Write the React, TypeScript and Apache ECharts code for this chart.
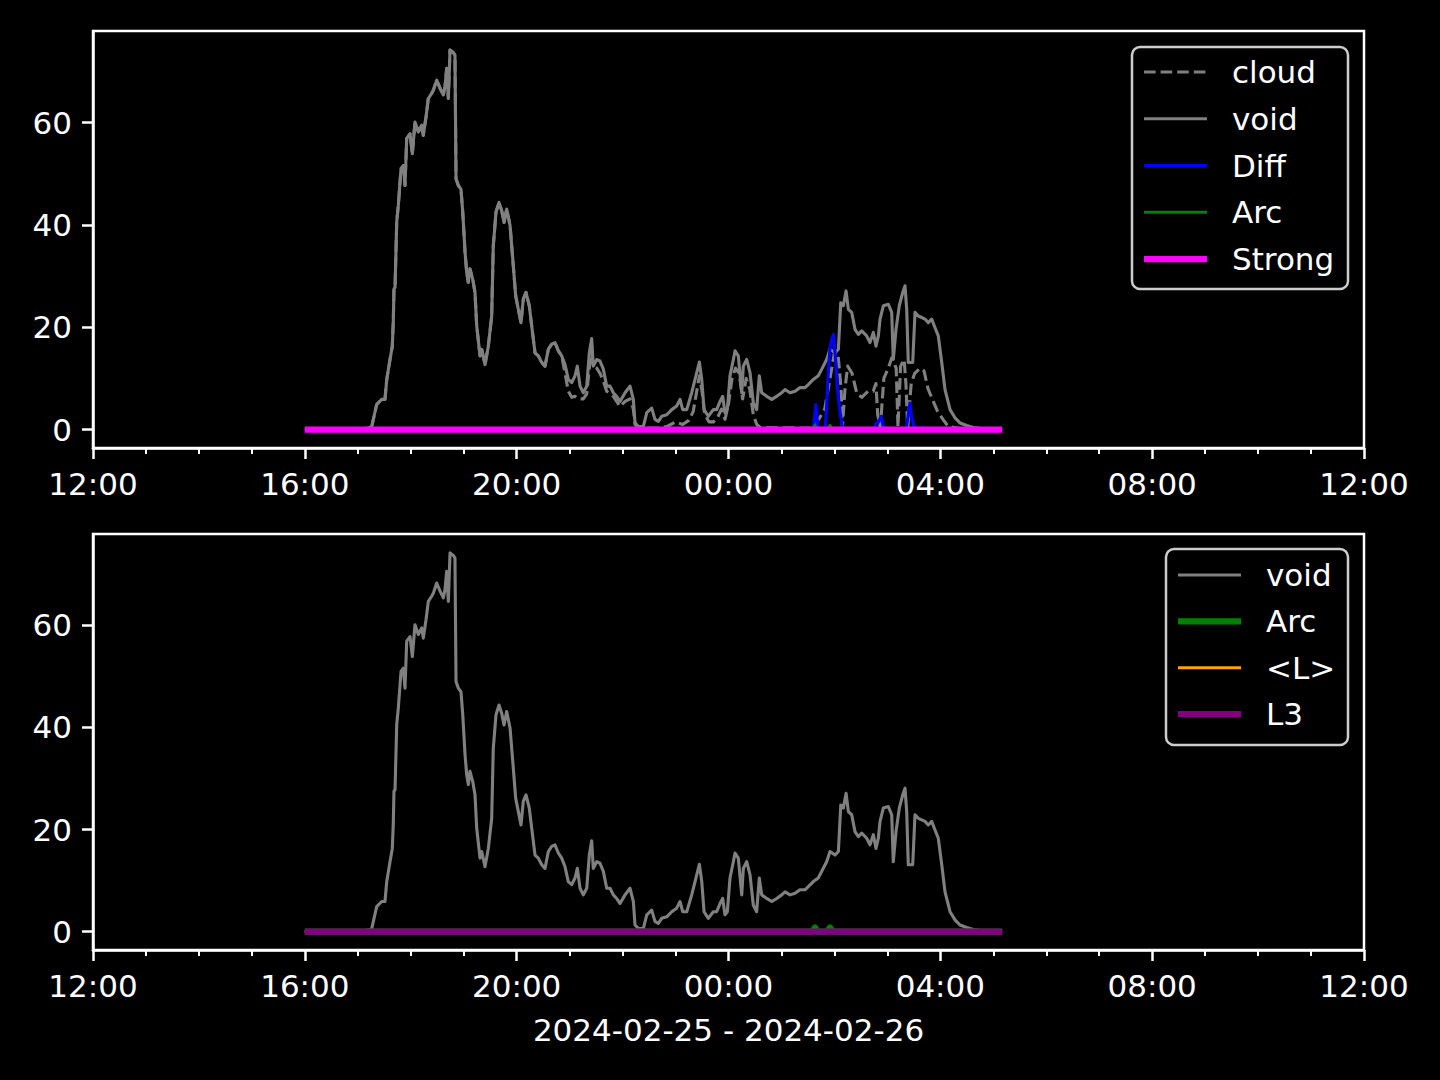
import React, { useEffect, useRef } from 'react';
import * as echarts from 'echarts';

const FONT = '"DejaVu Sans", sans-serif';

// x values are minutes after 2024-02-25 12:00
const yTickValues = [0, 20, 40, 60];
const xAxisTitle = '2024-02-25 - 2024-02-26';

const voidData: number[][] = [
  [240, 0], [300, 0], [312, 0.3], [315.8, 0.6], [321.4, 4.9], [327.1, 5.9], [330.8, 5.9], [332.8, 9.8],
  [336.5, 13.7], [339.1, 16.3], [340.2, 21], [341, 27.5], [342.2, 27.8], [344.1, 40.6], [345.9, 43.8],
  [349, 51], [351.6, 51.6], [353.5, 47.7], [355.4, 56.9], [359.2, 57.8], [361.8, 53.9], [364.8, 60.1],
  [368.6, 58.2], [372.4, 59.5], [374.2, 57.5], [377.3, 61.1], [379.9, 64.7], [383.7, 65.7], [385.6, 66.3],
  [389.4, 68.3], [393.2, 66.7], [396.9, 65.4], [398.8, 67], [400.7, 70.6], [402.6, 64.7], [404.5, 74.2],
  [408.2, 73.7], [410.1, 73.2], [411.3, 49], [413.9, 47.7], [416.9, 47], [418.9, 42.5], [421.5, 34.7],
  [423.4, 30.7], [425.2, 28.8], [427.1, 31.4], [430.2, 29.4], [432.8, 26.8], [434.7, 20.3], [438.5, 14.4],
  [440.4, 15.7], [444.1, 12.7], [447.9, 16.3], [451.7, 22.2], [453.5, 35.9], [456.6, 42.5], [460, 44.4],
  [463, 42.8], [465.7, 40.5], [468.7, 43.1], [472.5, 39.9], [476.2, 32], [478.9, 26.1], [481.9, 23.5],
  [484.9, 20.9], [487.5, 25.5], [490.6, 26.8], [494.3, 24.2], [497, 20.3], [500.8, 15], [504.5, 14.4],
  [508.4, 13.1], [512.1, 12.4], [515.9, 15.7], [519.7, 16.7], [523.4, 17], [527.2, 15.4], [531, 14.4],
  [534.8, 12.7], [538.5, 9.8], [542.4, 9.2], [546.1, 10.5], [548.7, 12.4], [551.8, 8.5], [555.5, 7.2],
  [559.4, 8.5], [562.3, 15], [565, 17.8], [566.8, 12.4], [570.7, 13.7], [574.4, 13.4], [578.2, 11.8],
  [582, 8.5], [585.8, 8.5], [589.5, 7.2], [593.3, 6.5], [597.1, 5.5], [602.8, 7.2], [608.4, 8.5],
  [612.2, 5.9], [614.1, 1.3], [617.9, 0.6], [623.5, 0.6], [627.4, 3.3], [633, 4.2], [636.7, 2],
  [640.5, 1.6], [644.3, 2.6], [650, 2.9], [655.7, 3.9], [661.3, 4.6], [665.1, 5.9], [668.1, 3.9],
  [672.7, 3.9], [678.3, 7.2], [682.1, 9.8], [687, 13.2], [689.7, 9.8], [692.3, 3.9], [697.1, 2.6],
  [702.8, 3.9], [706.6, 3.9], [710.4, 5.5], [713.4, 6.5], [716, 3.3], [718.7, 3.9], [721.7, 10.5],
  [725.5, 13.7], [727.4, 15.4], [731.1, 14.4], [735, 7.2], [736.8, 12.4], [740.6, 13.7], [744.4, 11.1],
  [748.1, 5.2], [751.9, 3.9], [754.9, 10.5], [757.6, 7.2], [763.3, 6.5], [769, 5.9], [774.6, 6.5],
  [780.3, 7.2], [784, 7.8], [789.7, 7.2], [795.4, 7.5], [801, 8.2], [806.7, 8.2], [810.4, 8.8],
  [816.1, 9.8], [821.7, 10.5], [827.4, 12.4], [831.2, 13.7], [835, 15.7], [840.7, 15], [844.5, 15.7],
  [847.2, 24.8], [850.1, 24.2], [853.2, 27.1], [855.8, 23.5], [859.6, 22.9], [863.3, 19.6], [867.1, 18.6],
  [870.9, 19.3], [876.6, 18.3], [880.3, 17], [884.1, 19], [887.1, 16.3], [889.8, 18.3], [891.7, 21.6],
  [895.4, 24.2], [901.1, 24.5], [904.9, 22.9], [906.7, 13.7], [909.8, 19.6], [913.5, 24.2], [917.4, 26.8],
  [920, 28.1], [921.9, 23.5], [923.7, 13.1], [928.7, 13.1], [931.3, 22.9], [935.1, 22.2], [938.9, 21.9],
  [942.6, 21.6], [946.4, 20.9], [950.2, 21.6], [954, 19.9], [957.7, 18.3], [961.6, 13.1], [965.3, 7.8],
  [971, 3.9], [976.6, 2.3], [982.3, 1.3], [989.9, 0.8], [997.4, 0.4], [1010.6, 0.1], [1030, 0],
];

const cloudData: number[][] = [
  [240, 0], [300, 0], [312, 0.3], [315.8, 0.6], [321.4, 4.9], [327.1, 5.9], [330.8, 5.9], [332.8, 9.8],
  [336.5, 13.7], [339.1, 16.3], [340.2, 21], [341, 27.5], [342.2, 27.8], [344.1, 40.6], [345.9, 43.8],
  [349, 51], [351.6, 51.6], [353.5, 47.7], [355.4, 56.9], [359.2, 57.8], [361.8, 53.9], [364.8, 60.1],
  [368.6, 58.2], [372.4, 59.5], [374.2, 57.5], [377.3, 61.1], [379.9, 64.7], [383.7, 65.7], [385.6, 66.3],
  [389.4, 68.3], [393.2, 66.7], [396.9, 65.4], [398.8, 67], [400.7, 70.6], [402.6, 64.7], [404.5, 74.2],
  [408.2, 73.7], [410.1, 73.2], [411.3, 49], [413.9, 47.7], [416.9, 47], [418.9, 42.5], [421.5, 34.7],
  [423.4, 30.7], [425.2, 28.8], [427.1, 31.4], [430.2, 29.4], [432.8, 26.8], [434.7, 20.3], [438.5, 14.4],
  [440.4, 15.7], [444.1, 12.7], [447.9, 16.3], [451.7, 22.2], [453.5, 35.9], [456.6, 42.5], [460, 44.4],
  [463, 42.8], [465.7, 40.5], [468.7, 43.1], [472.5, 39.9], [476.2, 32], [478.9, 26.1], [481.9, 23.5],
  [484.9, 20.9], [487.5, 25.5], [490.6, 26.8], [494.3, 24.2], [497, 20.3], [500.8, 15], [504.5, 14.4],
  [508.4, 13.1], [512.1, 12.4], [515.9, 15.7], [519.7, 16.7], [523.4, 17], [527.2, 15.4], [531, 14.4],
  [534.8, 11], [538.5, 7.5], [542.4, 6.3], [546.1, 6.5], [550, 6], [555.5, 6], [559.4, 7], [562.3, 12],
  [565, 15], [566.8, 12.4], [570.7, 12], [574.4, 11], [578.2, 9.5], [582, 7.5], [585.8, 7], [589.5, 6.5],
  [593.3, 5.5], [597.1, 4.5], [602.8, 5.5], [608.4, 6], [612.2, 4], [614.1, 1], [617.9, 0.3], [640, 0.3],
  [650, 0.6], [660, 1.5], [668, 1], [675, 1.8], [680, 3.5], [684, 7.5], [687, 10.5], [690, 7.5], [693, 3],
  [698, 1.5], [703, 1.5], [708, 2.5], [712, 4], [716, 2], [720, 5], [724, 10], [728, 12], [732, 11],
  [736, 6], [740, 10], [744, 8], [748, 3], [752, 1], [756, 0.4], [813, 0.3], [818, 1], [824, 2.5],
  [829, 4], [835, 10], [840, 15], [844, 15], [847.5, 8], [849, 0.3], [852, 8], [855, 12.4], [860, 11],
  [865.5, 7], [871, 6.3], [878, 7.5], [884, 7.5], [887, 9], [889, 3], [892, 0.3], [896, 10], [901, 12],
  [905, 14], [910, 12], [912, 0.5], [915, 12.4], [919, 13.7], [921, 9], [923, 0.3], [927, 9], [931, 11],
  [937, 12], [941.5, 11.5], [946, 8], [952, 5.5], [957, 3.5], [963, 2], [969, 0.6], [982, 0.2],
  [1000, 0], [1030, 0],
];

const diffData: number[][] = [
  [240, 0], [815, 0], [817, 1.2], [819, 4.9], [821, 1], [823, 0], [829.5, 0], [831, 4], [833, 11],
  [835, 16], [837, 17.6], [839, 18.6], [841, 14.4], [843.5, 7.8], [846.5, 3.3], [849.5, 0], [885, 0],
  [887, 1.2], [890, 1.5], [893, 2.6], [895, 0.8], [897, 0], [921, 0], [923, 2], [925.5, 5.2], [927, 3],
  [929, 1.5], [931, 0], [938, 0], [940, 0.4], [942, 0], [1030, 0],
];

const arcData: number[][] = [
  [240, 0], [815, 0], [818, 0.8], [821, 0], [832, 0], [835, 0.8], [838, 0], [1030, 0],
];

const meanLData: number[][] = [[240, 0], [1030, 0]];
const strongData: number[][] = [[240, 0], [1030, 0]];
const l3Data: number[][] = [[240, 0], [1030, 0]];

const LW1 = 3.1;
const LW2 = 6.25;
const DASH = [11.6, 5];

const pad = (n: number) => (n < 10 ? '0' + n : '' + n);
const fmtTime = (v: number) => {
  const t = (12 * 60 + Math.round(v)) % 1440;
  return pad(Math.floor(t / 60)) + ':' + pad(t % 60);
};

const textStyle = { color: '#fff', fontSize: 31, fontFamily: FONT };

function xAxisCfg(gridIndex: number, withName: boolean) {
  return {
    type: 'value',
    gridIndex,
    min: 0,
    max: 1440,
    interval: 240,
    axisLine: { show: true, onZero: false, lineStyle: { color: '#fff', width: 2.5 } },
    axisTick: { show: true, length: 11, lineStyle: { color: '#fff', width: 2.5 } },
    minorTick: { show: true, splitNumber: 4, length: 6, lineStyle: { color: '#fff', width: 2 } },
    minorSplitLine: { show: false },
    splitLine: { show: false },
    axisLabel: { ...textStyle, margin: 20, formatter: fmtTime, showMinLabel: true, showMaxLabel: true },
    name: withName ? xAxisTitle : '',
    nameLocation: 'middle',
    nameGap: 64,
    nameTextStyle: { ...textStyle },
  };
}

function yAxisCfg(gridIndex: number) {
  return {
    type: 'value',
    gridIndex,
    min: -3.6,
    max: 77.9,
    axisLine: { show: true, onZero: false, lineStyle: { color: '#fff', width: 2.5 } },
    axisTick: { show: true, length: 11, customValues: yTickValues, lineStyle: { color: '#fff', width: 2.5 } },
    axisLabel: { ...textStyle, margin: 21, customValues: yTickValues },
    splitLine: { show: false },
  };
}

function lineSeries(name: string, data: number[][], idx: number, color: string, width: number, dashed = false) {
  return {
    type: 'line',
    name,
    data,
    xAxisIndex: idx,
    yAxisIndex: idx,
    showSymbol: false,
    symbol: 'none',
    silent: true,
    lineStyle: { color, width, type: dashed ? DASH : 'solid', cap: 'butt', join: 'round' },
  };
}

type LegendItem = { name: string; color: string; width: number; dashed?: boolean };
const topLegend: LegendItem[] = [
  { name: 'cloud', color: '#808080', width: LW1, dashed: true },
  { name: 'void', color: '#808080', width: LW1 },
  { name: 'Diff', color: '#0000ff', width: LW1 },
  { name: 'Arc', color: '#008000', width: LW1 },
  { name: 'Strong', color: '#ff00ff', width: LW2 },
];
const bottomLegend: LegendItem[] = [
  { name: 'void', color: '#808080', width: LW1 },
  { name: 'Arc', color: '#008000', width: LW2 },
  { name: '<L>', color: '#ffa500', width: LW1 },
  { name: 'L3', color: '#800080', width: LW2 },
];

function legendGraphic(items: LegendItem[], box: { x: number; y: number; w: number; h: number }, firstY: number, step: number) {
  const children: any[] = [
    {
      type: 'rect',
      shape: { x: box.x, y: box.y, width: box.w, height: box.h, r: 8 },
      style: { fill: '#000', stroke: '#cccccc', lineWidth: 2.5 },
    },
  ];
  items.forEach((it, i) => {
    const y = firstY + i * step;
    children.push({
      type: 'line',
      shape: { x1: box.x + 12, y1: y, x2: box.x + 75, y2: y },
      style: { stroke: it.color, lineWidth: it.width, lineDash: it.dashed ? DASH : null },
    });
    children.push({
      type: 'text',
      x: box.x + 100,
      y,
      style: { text: it.name, fill: '#fff', fontSize: 31, fontFamily: FONT, verticalAlign: 'middle', align: 'left' },
    });
  });
  return { type: 'group', children };
}

export default function App() {
  const ref = useRef<HTMLDivElement>(null);
  useEffect(() => {
    document.body.style.margin = '0';
    document.body.style.background = '#000';
    const chart = echarts.init(ref.current!, null, { renderer: 'svg' });
    const option: any = {
      animation: false,
      backgroundColor: '#000',
      grid: [
        { left: 93, top: 31, width: 1271, height: 417, show: true, borderColor: '#fff', borderWidth: 2.5, backgroundColor: 'transparent' },
        { left: 93, top: 534, width: 1271, height: 416, show: true, borderColor: '#fff', borderWidth: 2.5, backgroundColor: 'transparent' },
      ],
      xAxis: [xAxisCfg(0, false), xAxisCfg(1, true)],
      yAxis: [yAxisCfg(0), yAxisCfg(1)],
      series: [
        lineSeries('cloud', cloudData, 0, '#808080', LW1, true),
        lineSeries('void', voidData, 0, '#808080', LW1),
        lineSeries('Diff', diffData, 0, '#0000ff', LW1),
        lineSeries('Arc', arcData, 0, '#008000', LW1),
        lineSeries('Strong', strongData, 0, '#ff00ff', LW2),
        lineSeries('void', voidData, 1, '#808080', LW1),
        lineSeries('Arc', arcData, 1, '#008000', LW2),
        lineSeries('<L>', meanLData, 1, '#ffa500', LW1),
        lineSeries('L3', l3Data, 1, '#800080', LW2),
      ],
      graphic: [
        legendGraphic(topLegend, { x: 1132, y: 47, w: 216, h: 242 }, 72, 46.75),
        legendGraphic(bottomLegend, { x: 1166, y: 549, w: 182, h: 196 }, 575, 46.4),
      ],
    };
    chart.setOption(option);
    return () => chart.dispose();
  }, []);
  return (
    <div
      ref={ref}
      style={{ width: 1440, height: 1080, position: 'absolute', left: 0, top: 0, background: '#000' }}
    />
  );
}
